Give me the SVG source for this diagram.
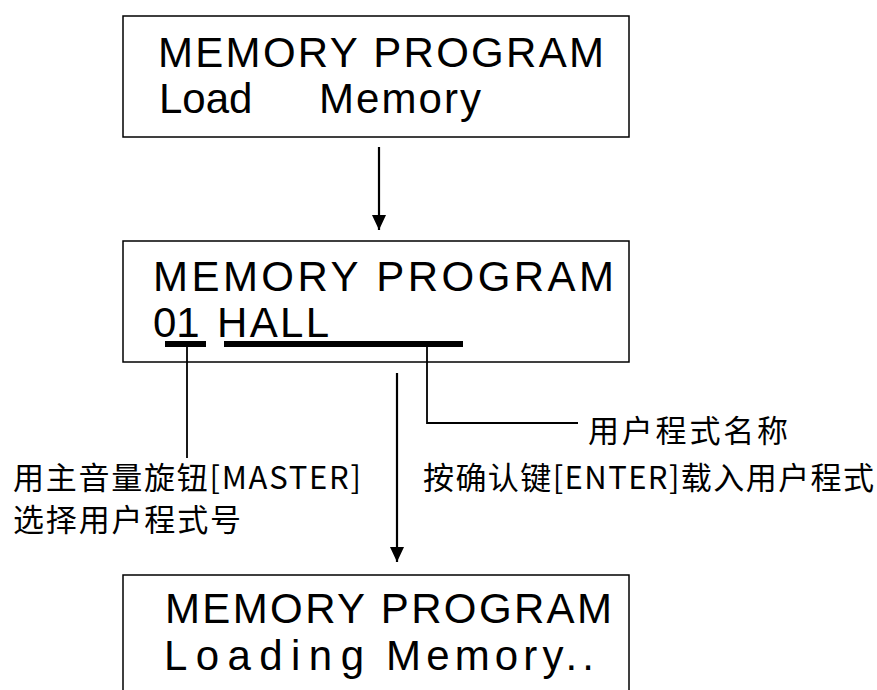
<svg xmlns="http://www.w3.org/2000/svg" width="877" height="690" viewBox="0 0 877 690">
<style>
.box{fill:#fff;stroke:#000;stroke-width:1.5}
.lcd{font-family:"Liberation Sans",Arial,sans-serif;font-size:42px;fill:#000}
.lbl{font-family:"Noto Sans CJK SC","Noto Sans",sans-serif;font-size:31px;fill:#000}
.ln{stroke:#000;stroke-width:1.8;fill:none}
.arr{stroke:#000;stroke-width:2.2;fill:none}
.bar{fill:#000}
</style>
<defs>
<marker id="ah" markerUnits="userSpaceOnUse" markerWidth="16" markerHeight="14" refX="15" refY="7" orient="auto">
<path d="M0,0 L15,7 L0,14 Z" fill="#000"/>
</marker>
</defs>
<rect width="877" height="690" fill="#fff"/>
<g id="node-load">
<rect class="box" x="123" y="16" width="506" height="121"/>
<text class="lcd" x="158" y="67" textLength="446" lengthAdjust="spacing">MEMORY PROGRAM</text>
<text class="lcd" x="159" y="113">Load</text>
<text class="lcd" x="319" y="113" textLength="162" lengthAdjust="spacing">Memory</text>
</g>
<g id="node-select">
<rect class="box" x="123" y="241" width="506" height="121"/>
<text class="lcd" x="153" y="291" textLength="461" lengthAdjust="spacing">MEMORY  PROGRAM</text>
<text class="lcd" x="153" y="337">01</text>
<text class="lcd" x="217" y="337" textLength="112" lengthAdjust="spacing">HALL</text>
<rect class="bar" x="165" y="341" width="41" height="6"/>
<rect class="bar" x="224" y="341" width="239" height="6"/>
</g>
<g id="node-loading">
<rect class="box" x="123" y="575" width="506" height="130"/>
<text class="lcd" x="165" y="623" textLength="447" lengthAdjust="spacing">MEMORY PROGRAM</text>
<text class="lcd" x="164" y="670" textLength="200" lengthAdjust="spacing">Loading</text>
<text class="lcd" x="386" y="670" textLength="208" lengthAdjust="spacing">Memory..</text>
</g>
<g id="label-number">
<text class="lbl" x="13" y="489" textLength="348" lengthAdjust="spacing">用主音量旋钮[MASTER]</text>
<text class="lbl" x="13" y="531" textLength="228" lengthAdjust="spacing">选择用户程式号</text>
</g>
<g id="label-name">
<text class="lbl" x="588" y="442" textLength="200" lengthAdjust="spacing">用户程式名称</text>
</g>
<g id="label-enter">
<text class="lbl" x="423" y="489" textLength="451" lengthAdjust="spacing">按确认键[ENTER]载入用户程式</text>
</g>
<g id="connectors">
<line class="arr" x1="379" y1="147" x2="379" y2="230" marker-end="url(#ah)"/>
<line class="arr" x1="397" y1="373" x2="397" y2="562" marker-end="url(#ah)"/>
<line class="ln" x1="187" y1="347" x2="187" y2="458"/>
<polyline class="ln" points="427,347 427,423 578,423"/>
</g>
</svg>
